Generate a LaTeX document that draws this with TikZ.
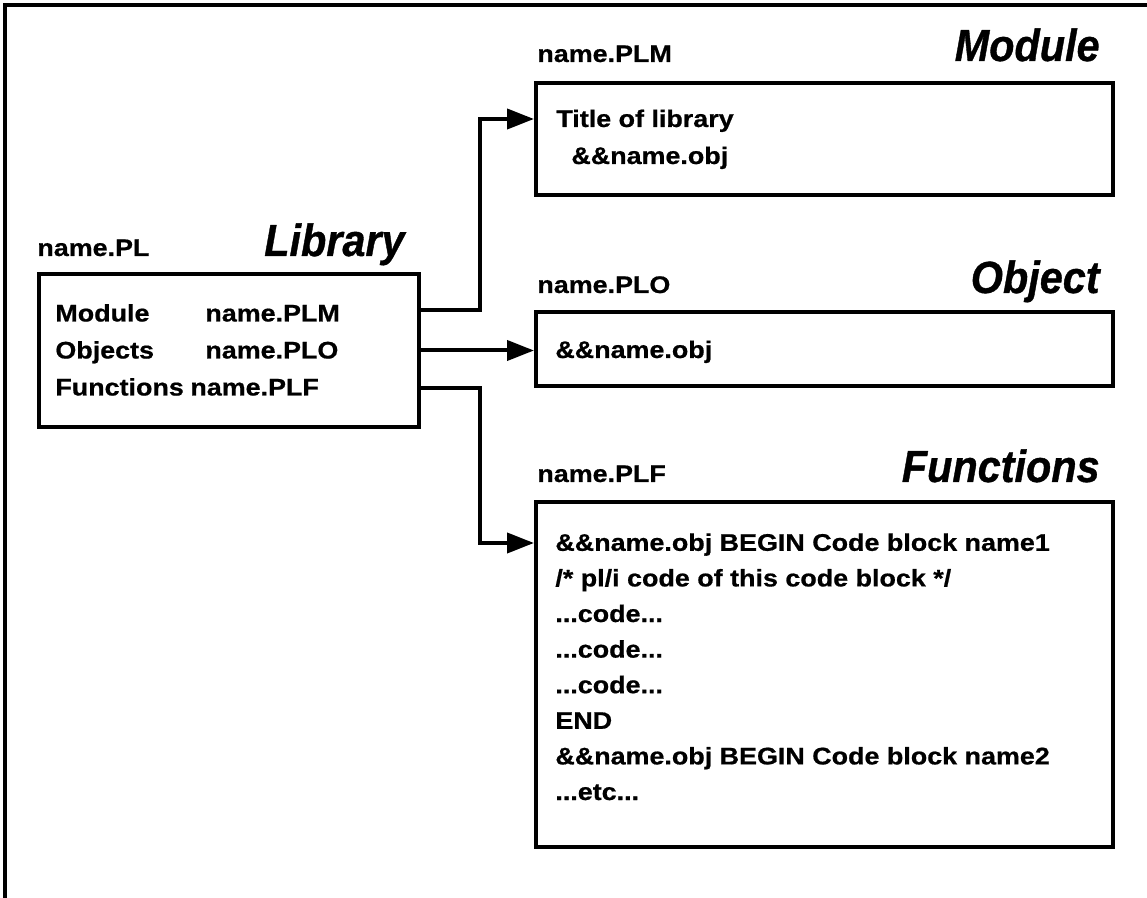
\documentclass[tikz,border=0pt]{standalone}
\usepackage{fontspec}
\setmainfont{Liberation Sans}
\newfontfamily\lblfont[FakeStretch=1.12,FakeBold=0.7]{Liberation Sans}
\newfontfamily\ttlfont[FakeStretch=0.92,FakeBold=0.8]{Liberation Sans}
\usetikzlibrary{arrows.meta}
\tikzset{
  box/.style={draw, line width=2pt, rectangle, inner sep=0pt},
  lbl/.style={font=\lblfont\bfseries\fontsize{12}{14}\selectfont, anchor=base west, inner sep=0pt},
  ttl/.style={font=\ttlfont\bfseries\itshape\fontsize{22.5}{26}\selectfont, anchor=base east, inner sep=0pt},
  link/.style={line width=2pt},
  arr/.style={link, -{Triangle[length=13.5pt,width=10pt]}},
}
\begin{document}
\begin{tikzpicture}[x=0.5pt,y=-0.5pt]
\useasboundingbox (0,0) rectangle (1147,898);

% frame (top and left edges)
\draw[link, line cap=rect] (5,898) -- (5,5) -- (1147,5);

% library box
\node[box, minimum width=190pt, minimum height=76.5pt] (lib) at (229,350.5) {};
\node[lbl] (libname) at (37,256) {name.PL};
\node[ttl] (libttl) at (405,256) {Library};
\node[lbl] (l1a) at (55,321.5) {Module};
\node[lbl] (l1b) at (205,321.5) {name.PLM};
\node[lbl] (l2a) at (55,358.5) {Objects};
\node[lbl] (l2b) at (205,358.5) {name.PLO};
\node[lbl] (l3a) at (55,395.5) {Functions};
\node[lbl] (l3b) at (190,395.5) {name.PLF};

% module box
\node[box, minimum width=288.5pt, minimum height=56pt] (mod) at (824.5,139) {};
\node[lbl] (modname) at (537,62) {name.PLM};
\node[ttl] (modttl) at (1100,61) {Module};
\node[lbl] (m1) at (556,127) {Title of library};
\node[lbl] (m2) at (571,164) {\&\&name.obj};

% object box
\node[box, minimum width=288.5pt, minimum height=37pt] (obj) at (824.5,349) {};
\node[lbl] (objname) at (537,293) {name.PLO};
\node[ttl] (objttl) at (1100,293) {Object};
\node[lbl] (o1) at (555,358) {\&\&name.obj};

% functions box; the code listing is placed by the baseline of its last line
\node[box, minimum width=288.5pt, minimum height=172.5pt] (fun) at (824.5,674.5) {};
\node[lbl] (funname) at (537,482) {name.PLF};
\node[ttl] (funttl) at (1100,482) {Functions};
\node[lbl, align=left, font=\lblfont\bfseries\fontsize{12}{17.8}\selectfont] (code) at (555,800)
  {\&\&name.obj BEGIN Code block name1\\
   /* pl/i code of this code block */\\
   ...code...\\
   ...code...\\
   ...code...\\
   END\\
   \&\&name.obj BEGIN Code block name2\\
   ...etc...};

% connectors
\draw[arr] ([yshift=20.25pt]lib.east) -- ++(59,0) |- ([yshift=10pt]mod.west);
\draw[arr] (lib.east) -- (lib.east -| obj.west);
\draw[arr] ([yshift=-18.75pt]lib.east) -- ++(59,0) |- ([yshift=65.75pt]fun.west);
\end{tikzpicture}
\end{document}
